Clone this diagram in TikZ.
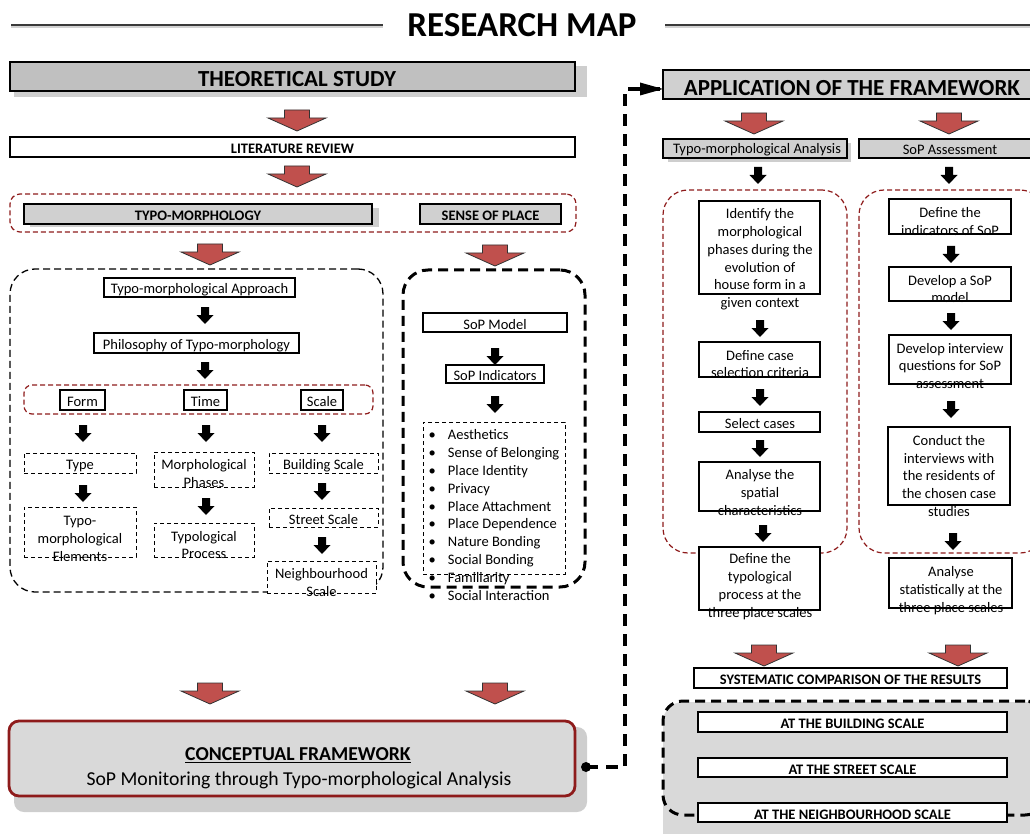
\documentclass[tikz,border=0pt]{standalone}
\usepackage{fontspec}
\setmainfont{Carlito}
\usetikzlibrary{arrows.meta}

\definecolor{arrred}{HTML}{C0504D}
\definecolor{rmred}{HTML}{8E1B1B}
\definecolor{hdrgray}{HTML}{C0C0C0}
\definecolor{subgray}{HTML}{D0D0D0}
\definecolor{shadegray}{HTML}{CECECE}
\definecolor{panelgray}{HTML}{D9D9D9}
\definecolor{linegray}{HTML}{3A3A3A}

\newcommand\mapbody{\fontsize{14.5}{17.8}\selectfont}
\newcommand\maphead{\fontsize{14.5}{17.8}\selectfont\bfseries}
\newcommand\mapbig{\fontsize{23}{27}\selectfont\bfseries}
\newcommand\maptitle{\fontsize{35}{40}\selectfont\bfseries}
\newcommand\mapcf{\fontsize{19.7}{24}\selectfont}

\begin{document}
\begin{tikzpicture}[x=1pt,y=-1pt,
  sz/.style n args={2}{minimum width=#1pt, minimum height=#2pt},
  every node/.style={inner sep=0pt, outer sep=0pt},
  low/.style={text height=13pt, text depth=0pt},
  box/.style={draw=black, line width=1.1pt, fill=white, font=\mapbody, low},
  hbox/.style={draw=black, line width=1.1pt, fill=white, font=\maphead, low},
  dbox/.style={draw=black, line width=1pt, dash pattern=on 4pt off 3pt, fill=white, font=\mapbody, low},
  graybox/.style={draw=black, line width=1.6pt, fill=hdrgray},
  subbox/.style={draw=black, line width=1.3pt, fill=subgray, low},
  txt/.style={align=center, font=\mapbody},
  redgroup/.style={draw=rmred, line width=1.2pt, dash pattern=on 5pt off 3pt},
  blkgroup/.style={draw=black, line width=1.3pt, dash pattern=on 7pt off 4pt},
  thickgroup/.style={draw=black, line width=3pt, dash pattern=on 10pt off 6pt},
  link/.style={draw=black, line width=4pt, dash pattern=on 12pt off 8pt},
  pics/redarr/.style={code={
    \draw[fill=arrred, draw=black!80, line width=0.8pt, line join=miter]
      (-12.5,0) -- (12.5,0) -- (12.5,8) -- (29,8) -- (0,21) -- (-29,8) -- (-12.5,8) -- cycle;}},
  pics/blkarr/.style={code={
    \fill[black] (-4,0) -- (4,0) -- (4,8) -- (8.5,8) -- (0,17) -- (-8.5,8) -- (-4,8) -- cycle;}}
]
\useasboundingbox (0,0) rectangle (1030,834);

% ---------- title ----------
\node[font=\maptitle] (title) at (522,25) {RESEARCH MAP};
\coordinate (tlA) at (11,25);  \coordinate (tlB) at (383,25);
\coordinate (trA) at (665,25); \coordinate (trB) at (1035,25);
\draw[gray!35, line width=3pt] ([yshift=-2pt]tlA) -- ([yshift=-2pt]tlB);
\draw[gray!35, line width=3pt] ([yshift=-2pt]trA) -- ([yshift=-2pt]trB);
\draw[linegray, line width=2.4pt] (tlA) -- (tlB);
\draw[linegray, line width=2.4pt] (trA) -- (trB);

% ---------- theoretical study ----------
\fill[shadegray] (14,66) rectangle (587,97);
\node[graybox, sz={565}{29}] (ts) at (292.5,76.5) {};
\node[font=\mapbig] (tstxt) at (297,79) {THEORETICAL STUDY};
\pic at (297,110) {redarr};
\node[hbox, sz={565}{20}] (lr) at (292.5,147) {LITERATURE REVIEW};
\pic at (297,166) {redarr};

\node[redgroup, rounded corners=10pt, sz={566}{38}] (tmgrp) at (293,213) {};
\fill[shadegray] (30,208) rectangle (379,227);
\node[subbox, sz={348}{20}, font=\maphead] (tm) at (198,214) {TYPO-MORPHOLOGY};
\node[subbox, sz={141}{20}, font=\maphead] (sp) at (490.5,214) {SENSE OF PLACE};

\pic at (210,244) {redarr};
\pic at (495,245) {redarr};

% ---------- typo-morphology branch ----------
\node[blkgroup, rounded corners=25pt, sz={373}{323}] (tmbody) at (196.5,430.5) {};
\node[box, sz={191}{19}] (tma) at (199.5,287.5) {Typo-morphological Approach};
\pic at (205,307) {blkarr};
\node[box, sz={205}{20}] (ph) at (196.5,343) {Philosophy of Typo-morphology};
\pic at (205,362) {blkarr};
\node[redgroup, rounded corners=8pt, sz={349}{29}] (fts) at (198.5,399.5) {};
\node[box, sz={45}{20}] (form) at (82.5,400) {Form};
\node[box, sz={43}{20}] (time) at (205.5,400) {Time};
\node[box, sz={42}{20}] (scale) at (322,400) {Scale};
\pic at (83,425) {blkarr};
\pic at (206,425) {blkarr};
\pic at (322,425) {blkarr};

\node[dbox, sz={112}{20}] (type) at (80,463) {Type};
\node[dbox, sz={100}{35}] (mp) at (204,469.5) {};
\node[txt] (mptxt) at (204,473.5) {Morphological\\Phases};
\node[dbox, sz={109}{20}] (bs) at (323.5,463) {Building Scale};
\pic at (83,485) {blkarr};
\pic at (206,498) {blkarr};
\pic at (322,483) {blkarr};
\node[dbox, sz={112}{50}] (tme) at (80,532) {};
\node[txt] (tmetxt) at (80,539) {Typo-\\morphological\\Elements};
\node[dbox, sz={100}{34}] (tp) at (204,540) {};
\node[txt] (tptxt) at (204,545) {Typological\\Process};
\node[dbox, sz={109}{19}] (ss) at (323.5,517.5) {Street Scale};
\pic at (322,537) {blkarr};
\node[dbox, sz={109}{32}] (ns) at (321.5,577) {};
\node[txt] (nstxt) at (321.5,582.5) {Neighbourhood\\Scale};

% ---------- sense of place branch ----------
\node[thickgroup, rounded corners=25pt, sz={182}{317}] (spbody) at (494,428.5) {};
\node[box, sz={144}{19}] (sopm) at (495,322.5) {SoP Model};
\pic at (495,348) {blkarr};
\node[box, sz={98}{18}] (sopi) at (495,374) {SoP Indicators};
\pic at (495,396) {blkarr};
\node[dbox, sz={142}{152}] (ind) at (494,498) {};
\node[align=left, font=\mapbody, anchor=west] (indtxt) at (428.5,515) {%
  \makebox[19.5pt][l]{\textbullet}Aesthetics\\
  \makebox[19.5pt][l]{\textbullet}Sense of Belonging\\
  \makebox[19.5pt][l]{\textbullet}Place Identity\\
  \makebox[19.5pt][l]{\textbullet}Privacy\\
  \makebox[19.5pt][l]{\textbullet}Place Attachment\\
  \makebox[19.5pt][l]{\textbullet}Place Dependence\\
  \makebox[19.5pt][l]{\textbullet}Nature Bonding\\
  \makebox[19.5pt][l]{\textbullet}Social Bonding\\
  \makebox[19.5pt][l]{\textbullet}Familiarity\\
  \makebox[19.5pt][l]{\textbullet}Social Interaction};

% ---------- conceptual framework ----------
\pic at (210,683) {redarr};
\pic at (495,683) {redarr};
\fill[shadegray, rounded corners=10pt] (14,727) rectangle (587,812);
\node[draw=rmred, line width=2.8pt, fill=panelgray, rounded corners=10pt, sz={566}{75}] (cf) at (292,758.5) {};
\node[font=\mapcf\bfseries] (cft1) at (298,755) {\underline{CONCEPTUAL FRAMEWORK}};
\node[font=\mapcf] (cft2) at (299,780) {SoP Monitoring through Typo-morphological Analysis};

% ---------- application of the framework ----------
\node[graybox, fill=subgray, sz={377}{29}] (app) at (851.5,84.5) {};
\node[font=\mapbig] (apptxt) at (852,88) {APPLICATION OF THE FRAMEWORK};

\coordinate (cfdot) at (586,767);
\coordinate (bend) at (625,767);
\draw[link] (cfdot) -- (bend) |- ([yshift=-4.5pt]app.west);
\draw[line width=4pt] (632,89) -- (640,89);
\fill[black] (640,82.5) -- (663,89) -- (640,95.5) -- cycle;
\fill[black] (cfdot) circle (5);

\pic at (754,113) {redarr};
\pic at (949,113) {redarr};
\fill[shadegray] (668,143) rectangle (851,162);
\node[subbox, sz={184}{19}] (ta) at (755,148.5) {};
\node[txt] (tatxt) at (757,150) {Typo-morphological Analysis};
\node[subbox, sz={181}{19}] (sa) at (949.5,148.5) {};
\node[txt] (satxt) at (950,150) {SoP Assessment};
\pic at (758,167) {blkarr};
\pic at (949,167) {blkarr};

% typo-morphological analysis steps
\node[redgroup, rounded corners=25pt, sz={184}{363}] (tagrp) at (755,371.5) {};
\node[box, sz={121}{93}] (s1) at (759.5,247.5) {};
\node[txt] (s1txt) at (760,259.5) {Identify the\\morphological\\phases during the\\evolution of\\house form in a\\given context};
\pic at (760,320) {blkarr};
\node[box, sz={121}{35}] (s2) at (759.5,359.5) {};
\node[txt] (s2txt) at (760,364) {Define case\\selection criteria};
\pic at (760,389) {blkarr};
\node[box, sz={121}{20}] (s3) at (759.5,422) {};
\node[txt] (s3txt) at (760,424) {Select cases};
\pic at (760,440) {blkarr};
\node[box, sz={121}{49}] (s4) at (759.5,486.5) {};
\node[txt] (s4txt) at (760,492.5) {Analyse the\\spatial\\characteristics};
\pic at (763,525) {blkarr};
\node[box, sz={121}{63}] (s5) at (759.5,578.5) {};
\node[txt] (s5txt) at (760,586.5) {Define the\\typological\\process at the\\three place scales};

% sense of place assessment steps
\node[redgroup, rounded corners=25pt, sz={186}{363}] (sagrp) at (952,371.5) {};
\node[box, sz={122}{35}] (r1) at (950,216.5) {};
\node[txt] (r1txt) at (950,221.5) {Define the\\indicators of SoP};
\pic at (951,246) {blkarr};
\node[box, sz={122}{34}] (r2) at (950,284) {};
\node[txt] (r2txt) at (950,289) {Develop a SoP\\model};
\pic at (951,313) {blkarr};
\node[box, sz={122}{49}] (r3) at (950,359.5) {};
\node[txt] (r3txt) at (950,366) {Develop interview\\questions for SoP\\assessment};
\pic at (951,401) {blkarr};
\node[box, sz={122}{78}] (r4) at (949,466) {};
\node[txt] (r4txt) at (949,476) {Conduct the\\interviews with\\the residents of\\the chosen case\\studies};
\pic at (953,533) {blkarr};
\node[box, sz={123}{50}] (r5) at (950.5,583) {};
\node[txt] (r5txt) at (951,590.5) {Analyse\\statistically at the\\three place scales};

% comparison of results
\pic at (764,645) {redarr};
\pic at (958,645) {redarr};
\node[hbox, sz={313}{20}] (cmp) at (850.5,678) {SYSTEMATIC COMPARISON OF THE RESULTS};
\fill[panelgray, rounded corners=20pt] (663,702) rectangle (1060,860);
\node[thickgroup, rounded corners=20pt, sz={382}{114}] (scales) at (854,758) {};
\node[hbox, sz={309}{20}] (atb) at (852.5,722) {AT THE BUILDING SCALE};
\node[hbox, sz={309}{19}] (ats) at (852.5,767.5) {AT THE STREET SCALE};
\node[hbox, sz={309}{19}] (atn) at (852.5,812.5) {AT THE NEIGHBOURHOOD SCALE};
\end{tikzpicture}
\end{document}
